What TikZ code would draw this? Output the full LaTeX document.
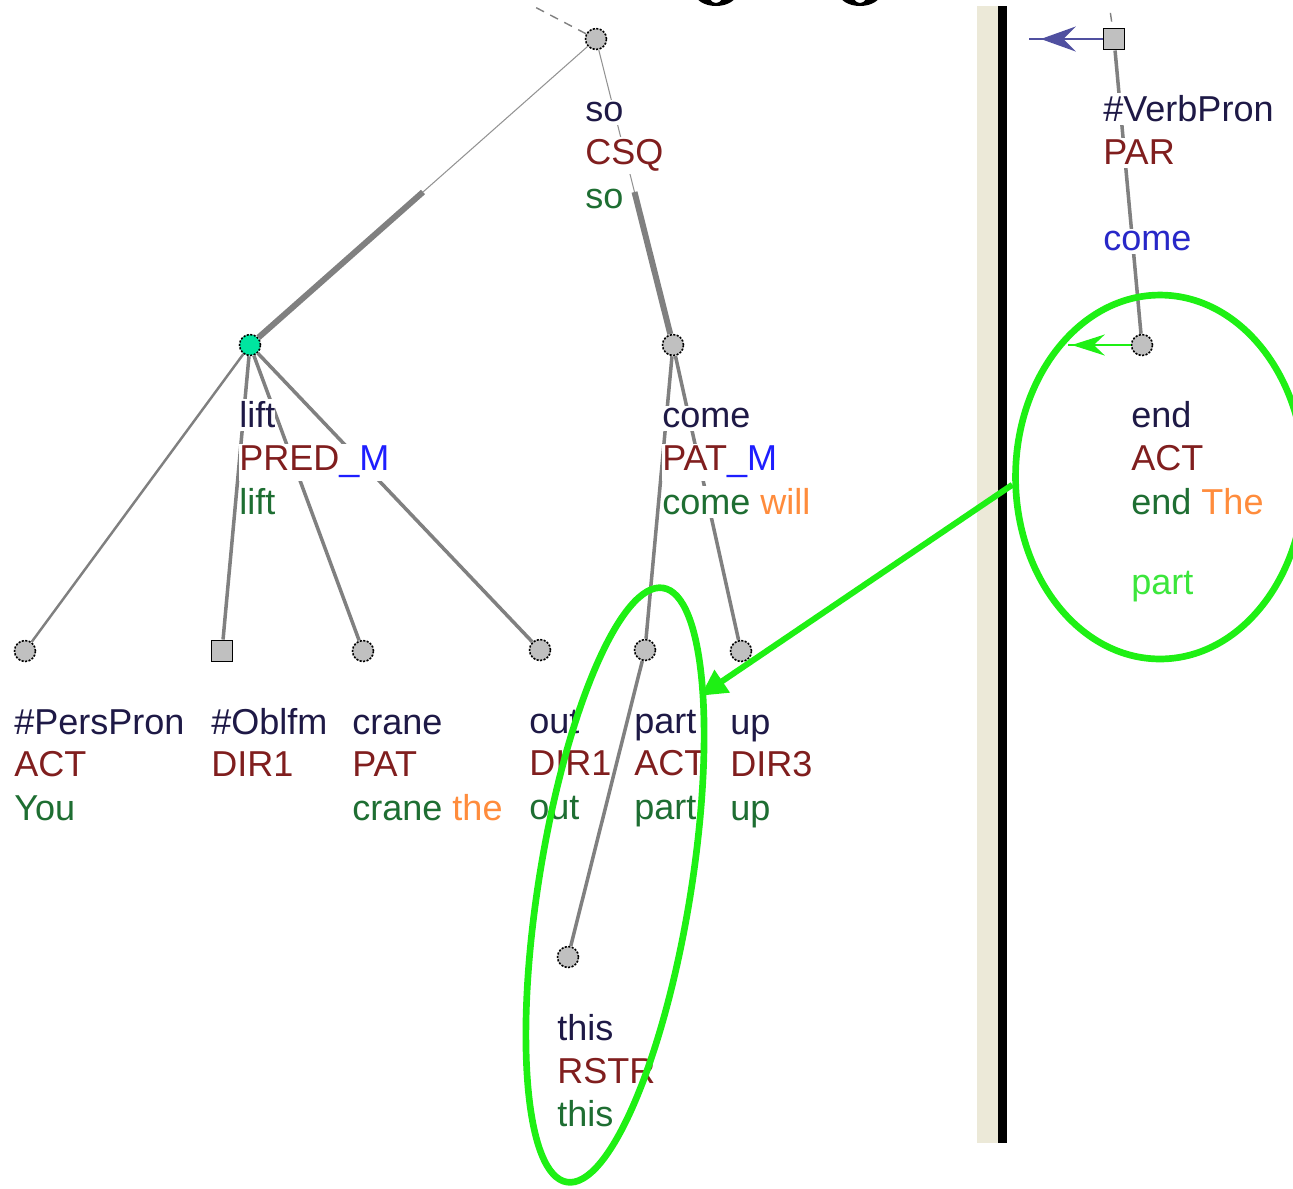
\documentclass[tikz,border=0pt]{standalone}
\usepackage{fontspec}
\setmainfont{Liberation Sans}
\usepackage{tikz}
\usetikzlibrary{arrows.meta,calc,shapes.geometric,decorations.markings}
\definecolor{lemmacol}{RGB}{30,25,70}
\definecolor{functorcol}{RGB}{128,30,30}
\definecolor{mcol}{RGB}{30,30,255}
\definecolor{formcol}{RGB}{30,110,50}
\definecolor{articol}{RGB}{255,140,60}
\definecolor{partcol}{RGB}{60,230,60}
\definecolor{comecol}{RGB}{40,40,200}
\definecolor{edgegray}{RGB}{128,128,128}
\definecolor{nodegray}{RGB}{192,192,192}
\definecolor{liftcol}{RGB}{0,230,160}
\definecolor{hlgreen}{RGB}{30,240,20}
\definecolor{panel}{RGB}{236,233,216}
\definecolor{coordblue}{RGB}{80,80,160}
\newcommand{\treefont}{\fontsize{20.5}{24}\selectfont}
\tikzset{font=\treefont}
\tikzstyle{tnode}=[circle,fill=nodegray,draw=black,dash pattern=on 1.2pt off 0.8pt,line width=0.9pt,minimum size=0.42cm,inner sep=0pt]
\tikzstyle{liftnode}=[tnode,fill=liftcol]
\tikzstyle{tsquare}=[rectangle,fill=nodegray,draw=black,line width=1.1pt,minimum size=0.42cm,inner sep=0pt]
\tikzstyle{lbl}=[anchor=base west,fill=white,inner xsep=0pt,inner ysep=1.5pt]
\tikzstyle{lemma}=[lbl,text=lemmacol]
\tikzstyle{functor}=[lbl,text=functorcol]
\tikzstyle{form}=[lbl,text=formcol]
\tikzstyle{thinedge}=[draw=edgegray!85,line width=0.6pt]
\tikzstyle{thickedge}=[draw=edgegray,line width=3.4pt]
\tikzstyle{childedge}=[draw=edgegray,line width=2pt]
\tikzstyle{upedge}=[draw=edgegray,line width=0.8pt,dash pattern=on 5pt off 4pt]
\tikzstyle{hlellipse}=[ellipse,draw=hlgreen,line width=3.8pt,inner sep=0pt]
\tikzstyle{hlarrow}=[draw=hlgreen,line width=3.4pt,-{Triangle[length=0.52cm,width=0.52cm]}]
\tikzstyle{corefblue}=[draw=coordblue,line width=1.3pt,postaction={decorate},
  decoration={markings,mark=at position 0.84 with {\arrow[coordblue]{Stealth[length=0.7cm,width=0.5cm,inset=0.25cm]}}}]
\tikzstyle{corefgreen}=[draw=hlgreen,line width=1.3pt,postaction={decorate},
  decoration={markings,mark=at position 0.94 with {\arrow[hlgreen]{Stealth[length=0.66cm,width=0.42cm,inset=0.22cm]}}}]
\newcommand{\tlabel}[3]{%
  \node[lemma] (#1-lem) at ([xshift=-0.22cm,yshift=-1.66cm]#1.center) {#2};
  \node[functor] (#1-fun) at ([xshift=-0.22cm,yshift=-2.52cm]#1.center) {#3};}
\newcommand{\tform}[2]{%
  \node[form] (#1-form) at ([xshift=-0.22cm,yshift=-3.4cm]#1.center) {#2};}

\begin{document}
\begin{tikzpicture}[x=0.02cm,y=-0.02cm]
\useasboundingbox (0,0) rectangle (1293,1188);
\clip (0,0) rectangle (1293,1188);
% heading cut off at the top
\fill[even odd rule] (716,-8) ellipse [x radius=0.43cm,y radius=0.28cm] (716,-8) ellipse [x radius=0.16cm,y radius=0.22cm];
\fill[even odd rule] (860,-8) ellipse [x radius=0.43cm,y radius=0.28cm] (860,-8) ellipse [x radius=0.16cm,y radius=0.22cm];
% window divider
\fill[panel] (977,6) rectangle (998,1143);
\fill[black] (998,6) rectangle (1007,1143);

\node[tnode] (root) at (596,39) {};
\node[liftnode] (lift) at (250,345) {};
\node[tnode] (come) at (673,345) {};
\node[tnode] (perspron) at (25,651) {};
\node[tsquare] (oblfm) at (222,651) {};
\node[tnode] (crane) at (363,651) {};
\node[tnode] (out) at (540,650) {};
\node[tnode] (part) at (645,650) {};
\node[tnode] (up) at (741,651) {};
\node[tnode] (this) at (568,957) {};
\node[tsquare] (verbpron) at (1114,39) {};
\node[tnode] (end) at (1142,345) {};
\coordinate (rootup) at (533,6);
\coordinate (vpup) at (1110,10);
\coordinate (vpcoref) at (1029,39);
\coordinate (endcoref) at (1068,345);

\draw[thinedge] (root) -- ($(root)!.5!(lift)$);
\draw[thickedge] ($(root)!.5!(lift)$) -- (lift);
\draw[thinedge] (root) -- ($(root)!.5!(come)$);
\draw[thickedge] ($(root)!.5!(come)$) -- (come);
\path[upedge] (root) edge (rootup);
\path[upedge,shorten <=0.12cm] (verbpron) edge (vpup);
\path[childedge]
(lift) edge[line width=1.4pt] (perspron)
(lift) edge (oblfm)
(lift) edge (crane)
(lift) edge (out)
(come) edge (part)
(come) edge (up)
(part) edge (this)
(verbpron) edge (end);

\tlabel{root}{so}{CSQ}
\tform{root}{so}
\tlabel{lift}{lift}{PRED\textcolor{mcol}{\_M}}
\tform{lift}{lift}
\tlabel{come}{come}{PAT\textcolor{mcol}{\_M}}
\tform{come}{come \textcolor{articol}{will}}
\tlabel{perspron}{\#PersPron}{ACT}
\tform{perspron}{You}
\tlabel{oblfm}{\#Oblfm}{DIR1}
\tlabel{crane}{crane}{PAT}
\tform{crane}{crane \textcolor{articol}{the}}
\tlabel{out}{out}{DIR1}
\tform{out}{out}
\tlabel{part}{part}{ACT}
\tform{part}{part}
\tlabel{up}{up}{DIR3}
\tform{up}{up}
\tlabel{this}{this}{RSTR}
\tform{this}{this}
\tlabel{verbpron}{\#VerbPron}{PAR}
\node[lbl,text=comecol] (verbpron-extra) at ([xshift=-0.22cm,yshift=-4.24cm]verbpron.center) {come};
\tlabel{end}{end}{ACT}
\tform{end}{end \textcolor{articol}{The}}
\node[lbl,text=partcol] (end-extra) at ([xshift=-0.22cm,yshift=-5.0cm]end.center) {part};

\draw[corefblue] (verbpron) -- (vpcoref);
\draw[corefgreen] (end) -- (endcoref);

% highlighting
\node[hlellipse,minimum width=3.04cm,minimum height=12.04cm,rotate=-9.2] (hlpart) at (615,885) {};
\node[hlellipse,minimum width=5.78cm,minimum height=7.28cm] (hlend) at (1160,477) {};
\draw[hlarrow,shorten >=-0.12cm] (hlend.183) -- (hlpart.74);
\end{tikzpicture}
\end{document}
